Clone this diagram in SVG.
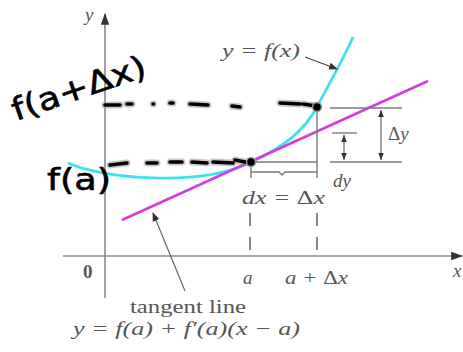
<svg xmlns="http://www.w3.org/2000/svg" width="463" height="352" viewBox="0 0 463 352">
<defs>
<style>
.ax{stroke:#8a8a8a;stroke-width:1.6;fill:none}
.thin{stroke:#7a7a7a;stroke-width:1.4;fill:none}
.dash{stroke:#6a6a6a;stroke-width:1.6;fill:none;stroke-dasharray:13 11}
.m{font-family:"Liberation Serif",serif;font-style:italic;fill:#555;font-size:19px}
.u{font-style:normal}
.hand{font-family:"DejaVu Sans","Liberation Sans",sans-serif;fill:#000;stroke:#000;stroke-width:0.6;font-size:31px}
.halo{stroke:#9a9a9a;stroke-width:7;stroke-linecap:round;fill:none;opacity:0.55}
.ink{stroke:#000;stroke-width:3.6;stroke-linecap:round;fill:none}
</style>
<marker id="ah" viewBox="0 0 10 10" refX="9" refY="5" markerWidth="9" markerHeight="9" markerUnits="userSpaceOnUse" orient="auto">
<path d="M0,1 L10,5 L0,9 Z" fill="#333"/>
</marker>
<marker id="ap" viewBox="0 0 10 10" refX="9" refY="5" markerWidth="12" markerHeight="12" markerUnits="userSpaceOnUse" orient="auto">
<path d="M0,1.5 L10,5 L0,8.5 Z" fill="#333"/>
</marker>
<marker id="sa" viewBox="0 0 10 10" refX="10" refY="5" markerWidth="7" markerHeight="7" markerUnits="userSpaceOnUse" orient="auto-start-reverse">
<path d="M0,1 L10,5 L0,9 Z" fill="#333"/>
</marker>
</defs>
<rect width="463" height="352" fill="#fff"/>

<g id="axes">
<line class="ax" x1="105" y1="298" x2="105" y2="14" marker-end="url(#ap)"/>
<line class="ax" x1="63" y1="256" x2="462" y2="256" marker-end="url(#ap)"/>
<text class="m" x="85" y="21">y</text>
<text class="m" x="453" y="277">x</text>
<text class="m u" x="83" y="278" font-weight="bold">0</text>
<text class="m" x="243" y="284">a</text>
<text class="m" x="285" y="284" textLength="63" lengthAdjust="spacingAndGlyphs">a + <tspan class="u">Δ</tspan>x</text>
</g>

<g id="curve">
<path d="M68,163 C100,178 200,188 251,162 C283,148 305,130 317,107 C330,82 343,60 353,37" stroke="#3de3ea" stroke-width="2.8" fill="none"/>
<text class="m" x="222" y="57" textLength="78" lengthAdjust="spacingAndGlyphs">y = f(x)</text>
</g>

<g id="tangent">
<line x1="122" y1="220" x2="428" y2="81" stroke="#d23ce0" stroke-width="2.6"/>
<text class="m u" x="130" y="313" textLength="116" lengthAdjust="spacingAndGlyphs">tangent line</text>
<text class="m" x="73" y="335" textLength="227" lengthAdjust="spacingAndGlyphs">y = f(a) + f′(a)(x − a)</text>
</g>

<g id="increments">
<line class="thin" x1="251" y1="162" x2="317" y2="162"/>
<line class="thin" x1="317" y1="107" x2="317" y2="178"/>
<line class="thin" x1="251" y1="166" x2="251" y2="178"/>
<path class="thin" d="M251,172 L279,172 L282,175 L285,172 L317,172" stroke-width="1.1"/>
<line class="dash" x1="250" y1="213" x2="250" y2="256"/>
<line class="dash" x1="317" y1="213" x2="317" y2="256"/>
<text class="m" x="242" y="204" textLength="83" lengthAdjust="spacingAndGlyphs">dx = <tspan class="u">Δ</tspan>x</text>
<line class="thin" x1="330" y1="108" x2="402" y2="108"/>
<line class="thin" x1="330" y1="162" x2="402" y2="162"/>
<line class="thin" x1="332" y1="133" x2="357" y2="133"/>
<line class="thin" x1="381" y1="110" x2="381" y2="160" marker-start="url(#sa)" marker-end="url(#sa)"/>
<line class="thin" x1="344" y1="135" x2="344" y2="160" marker-start="url(#sa)" marker-end="url(#sa)"/>
<text class="m" x="388" y="140" font-size="22"><tspan class="u">Δ</tspan>y</text>
<text class="m" x="333" y="187" font-size="21">dy</text>
</g>

<g id="connectors">
<line x1="305" y1="57" x2="337" y2="69" stroke="#444" stroke-width="1.2" marker-end="url(#ah)"/>
<line x1="185" y1="291" x2="153" y2="213" stroke="#666" stroke-width="1.2" marker-end="url(#ah)"/>
</g>

<g id="handwriting">
<path class="halo" d="M105,105 L120,105 M127,104 L132,104 M153,104 L153.5,104 M170,103 L173,103 M190,104 L208,105 M232,106 L240,107 M280,103 L300,104 M303,104 L316,106 M110,165 L127,163 M147,163 L157,163 M170,162 L182,162 M192,162 L207,163 M213,162 L233,163 M235,160 L250,163"/>
<path class="ink" d="M105,105 L120,105 M127,104 L132,104 M153,104 L153.5,104 M170,103 L173,103 M190,104 L208,105 M232,106 L240,107 M280,103 L300,104 M303,104 L316,106 M110,165 L127,163 M147,163 L157,163 M170,162 L182,162 M192,162 L207,163 M213,162 L233,163 M235,160 L250,163"/>
<circle cx="251" cy="162" r="4.5" fill="#000" stroke="#999" stroke-width="1.5"/>
<circle cx="317" cy="107" r="4.5" fill="#000" stroke="#999" stroke-width="1.5"/>
<text class="hand" transform="translate(16,121) rotate(-19)" textLength="140" lengthAdjust="spacingAndGlyphs">f(a+Δx)</text>
<text class="hand" x="47" y="190" textLength="64" lengthAdjust="spacingAndGlyphs">f(a)</text>
</g>
</svg>
